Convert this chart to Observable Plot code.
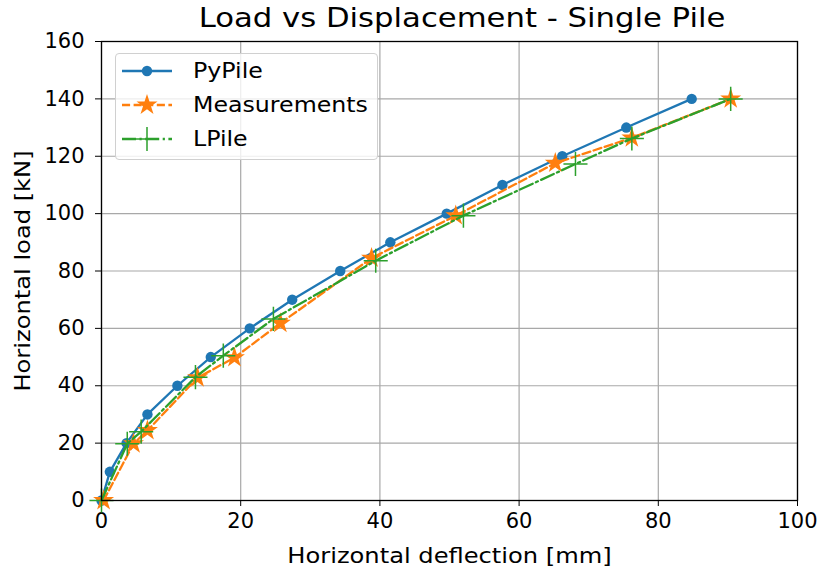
<!DOCTYPE html>
<html>
<head>
<meta charset="utf-8">
<script src="https://cdn.jsdelivr.net/npm/d3@7"></script>
<script src="https://cdn.jsdelivr.net/npm/@observablehq/plot@0.6"></script>
<style>
  html, body { margin: 0; padding: 0; background: #fff; }
  body { width: 821px; height: 570px; position: relative; font-family: "DejaVu Sans", sans-serif; overflow: hidden; }
  #title { position: absolute; left: 0; top: 0; width: 924px; height: 30px; text-align: center; z-index: 2; }
  #title span { display: inline-block; font-size: 26.7px; line-height: 26.7px; margin-top: 5px; transform: scaleX(1.15); color: #000; white-space: nowrap; }
  #chart { position: absolute; left: 0; top: 30px; z-index: 1; }
  #legend { position: absolute; left: 115px; top: 53px; width: 263px; height: 107px; box-sizing: border-box; z-index: 3;
            border: 1px solid #d0d0d0; border-radius: 4px; background: rgba(255,255,255,0.8); }
  .item { position: absolute; left: 5px; height: 30px; display: flex; align-items: center; color: #000; }
  .item svg { margin-right: 20px; }
  .item span { display: inline-block; font-size: 20.6px; transform: scaleX(1.15); transform-origin: left center; white-space: nowrap; }
</style>
</head>
<body>
<div id="title"><span>Load vs Displacement - Single Pile</span></div>
<div id="chart"></div>
<div id="legend"></div>
<script>
// PyPile prediction
const pypileDefl = [0, 1.2, 3.6, 6.6, 10.9, 15.7, 21.3, 27.4, 34.3, 41.5, 49.6, 57.6, 66.2, 75.4, 84.8];
const pypileLoad = [0, 10, 20, 30, 40, 50, 60, 70, 80, 90, 100, 110, 120, 130, 140];

// Field measurements
const measDefl = [0.3, 4.6, 6.6, 13.8, 19.1, 25.7, 38.8, 50.9, 65.2, 76.2, 90.4];
const measLoad = [0, 19.8, 24.4, 42.8, 49.8, 61.8, 84.5, 99.3, 117.6, 126.4, 140];

// LPile prediction
const lpileDefl = [0, 3.7, 5.7, 13.5, 17.5, 24.7, 39.4, 52.0, 68.1, 76.2, 90.4];
const lpileLoad = [0, 19.8, 24.0, 43.0, 50.5, 63.3, 83.6, 99.3, 117.3, 126.2, 140];

const xTicks = [0, 20, 40, 60, 80, 100];
const yTicks = [0, 20, 40, 60, 80, 100, 120, 140, 160];

const series = [
  {name: "PyPile", color: "#1f77b4", defl: pypileDefl, load: pypileLoad, dash: null, symbol: "circle", r: 5.2, fill: true},
  {name: "Measurements", color: "#ff7f0e", defl: measDefl, load: measLoad, dash: "8.1,3.5", symbol: "star", r: 6.6, fill: true},
  {name: "LPile", color: "#2ca02c", defl: lpileDefl, load: lpileLoad, dash: "14,3.5,2.2,3.5", symbol: "plus", r: 7.8, fill: false}
];

const rows = s => s.defl.map((d, i) => ({x: d, y: s.load[i]}));

const marks = [
  Plot.gridX(xTicks, {stroke: "#a8a8a8", strokeOpacity: 1, strokeWidth: 1.2}),
  Plot.gridY(yTicks, {stroke: "#a8a8a8", strokeOpacity: 1, strokeWidth: 1.2}),
  Plot.axisX(xTicks, {tickSize: 6, tickPadding: 7, fontSize: 21, label: null, stroke: "black"}),
  Plot.axisY(yTicks, {tickSize: 6, tickPadding: 11, fontSize: 21, label: null, stroke: "black"}),
  Plot.text(["Horizontal deflection [mm]"], {frameAnchor: "bottom", textAnchor: "middle", lineAnchor: "bottom", dy: 62, fontSize: 21}),
  Plot.text(["Horizontal load [kN]"], {frameAnchor: "left", textAnchor: "middle", lineAnchor: "middle", dx: -78, rotate: -90, fontSize: 21})
];

for (const s of series) {
  const data = rows(s);
  marks.push(Plot.line(data, {x: "x", y: "y", stroke: s.color, strokeWidth: 2.3, strokeDasharray: s.dash, curve: "linear"}));
  if (s.fill) {
    marks.push(Plot.dot(data, {x: "x", y: "y", symbol: s.symbol, r: s.r, fill: s.color, stroke: "none"}));
  } else {
    marks.push(Plot.dot(data, {x: "x", y: "y", symbol: s.symbol, r: s.r, stroke: s.color, strokeWidth: 1.5, fill: "none"}));
  }
}
marks.push(Plot.frame({stroke: "black", strokeWidth: 1.3}));

const chart = Plot.plot({
  width: 821,
  height: 540,
  marginLeft: 101,
  marginRight: 24,
  marginTop: 11,
  marginBottom: 70,
  x: {domain: [0, 100]},
  y: {domain: [0, 160]},
  style: {fontFamily: "DejaVu Sans", fontSize: "21px", color: "black", background: "transparent", overflow: "visible"},
  marks
});
document.getElementById("chart").appendChild(chart);

// Axis titles are set slightly wide, like the other labels
chart.querySelectorAll('g[aria-label="text"] text').forEach(t => {
  const len = t.getComputedTextLength();
  t.setAttribute("textLength", (len * 1.15).toFixed(1));
  t.setAttribute("lengthAdjust", "spacingAndGlyphs");
});

// Legend entries with line and marker samples
const legend = document.getElementById("legend");
series.forEach((s, i) => {
  const item = document.createElement("div");
  item.className = "item";
  item.style.top = (2 + i * 34) + "px";
  const sym = d3.symbol(s.symbol === "star" ? d3.symbolStar : s.symbol === "plus" ? d3.symbolPlus : d3.symbolCircle, Math.PI * s.r * s.r)();
  const dash = s.dash ? `stroke-dasharray="${s.dash}"` : "";
  item.innerHTML = `<svg width="52" height="30">
      <line x1="1" x2="51" y1="15" y2="15" stroke="${s.color}" stroke-width="2.3" ${dash}/>
      <path d="${sym}" transform="translate(26,15)" fill="${s.fill ? s.color : "none"}" stroke="${s.fill ? "none" : s.color}" stroke-width="1.5"/>
    </svg><span>${s.name}</span>`;
  legend.appendChild(item);
});
</script>
</body>
</html>
